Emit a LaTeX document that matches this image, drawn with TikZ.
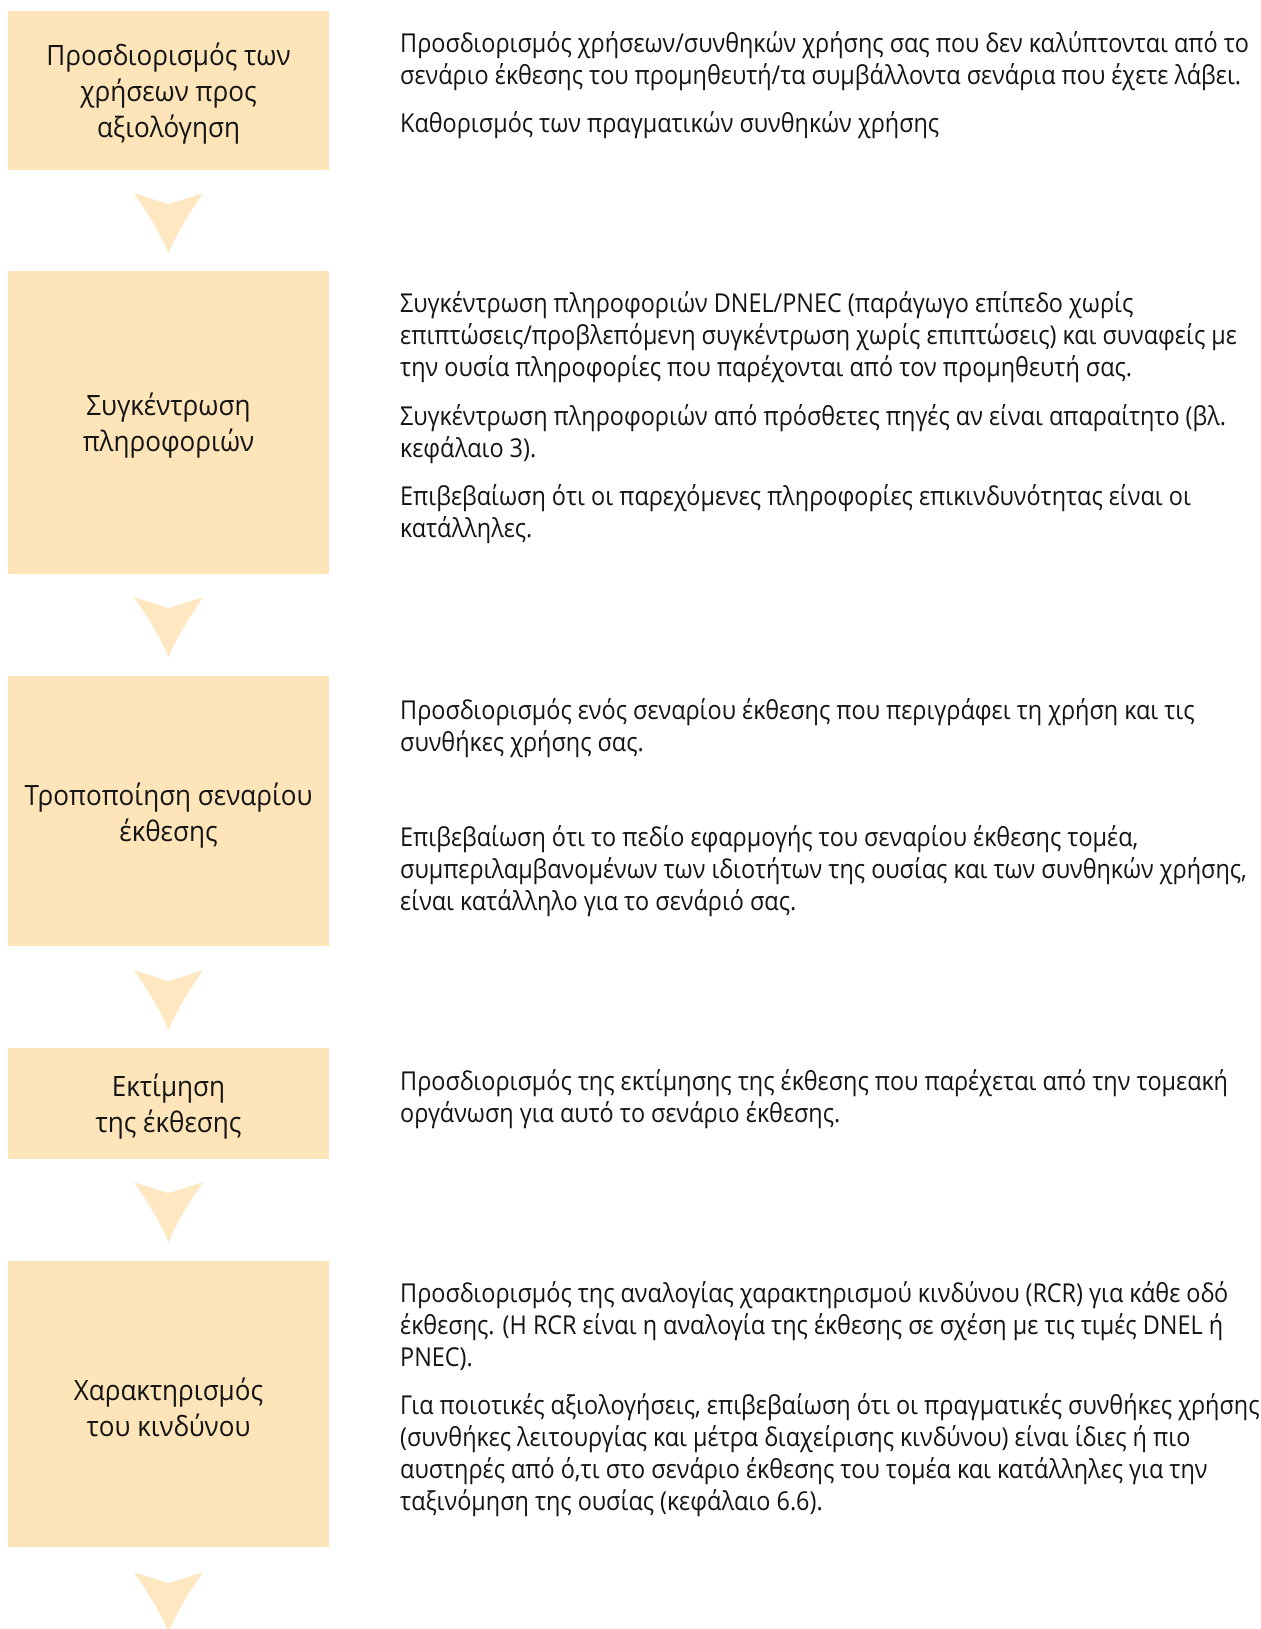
\documentclass[tikz,border=0pt]{standalone}
\usepackage{fontspec}
\setmainfont{Open Sans}
\newfontfamily\boxfont{Open Sans}[FakeStretch=0.93]
\newfontfamily\notefont{Open Sans}[FakeStretch=0.9]
\definecolor{stepfill}{RGB}{253,228,185}
\definecolor{chevfill}{RGB}{255,231,193}
\definecolor{inktext}{RGB}{20,20,20}
\begin{document}
\begin{tikzpicture}[x=1pt,y=-1pt,
  stagebox/.style={rectangle, fill=stepfill, draw=none, minimum width=321pt,
    inner sep=0pt},
  stagetext/.style={inner sep=0pt, align=center, text=inktext,
    font=\boxfont\fontsize{28}{36}\selectfont},
  note/.style={anchor=base west, inner sep=0pt, text=inktext,
    font=\notefont\fontsize{26}{32}\selectfont},
  chev/.pic={\fill[chevfill] (-34.5,0) -- (0,11) -- (34.5,0)
      .. controls (22,18) and (8,40) .. (0,60)
      .. controls (-8,40) and (-22,18) .. (-34.5,0) -- cycle;}]
\useasboundingbox[fill=white] (0,0) rectangle (1260,1629);

% stage boxes on the left
\node[stagebox, minimum height=159pt] (b1) at (168.5,90.5) {};
\node[stagebox, minimum height=303pt] (b2) at (168.5,422.5) {};
\node[stagebox, minimum height=270pt] (b3) at (168.5,811) {};
\node[stagebox, minimum height=111pt] (b4) at (168.5,1103.5) {};
\node[stagebox, minimum height=286pt] (b5) at (168.5,1404) {};

% stage titles
\node[stagetext] (t1) at ([yshift=-3.5pt]b1.center) {Προσδιορισμός των\\χρήσεων προς\\αξιολόγηση};
\node[stagetext] (t2) at ([yshift=-3.5pt]b2.center) {Συγκέντρωση\\πληροφοριών};
\node[stagetext] (t3) at ([yshift=-4.5pt]b3.center) {Τροποποίηση σεναρίου\\έκθεσης};
\node[stagetext] (t4) at ([yshift=-3.5pt]b4.center) {Εκτίμηση\\της έκθεσης};
\node[stagetext] (t5) at ([yshift=-3.5pt]b5.center) {Χαρακτηρισμός\\του κινδύνου};

% chevrons below each box
\path ([yshift=-23pt]b1.south) pic {chev};
\path ([yshift=-23pt]b2.south) pic {chev};
\path ([yshift=-24pt]b3.south) pic {chev};
\path ([yshift=-23pt]b4.south) pic {chev};
\path ([yshift=-25pt]b5.south) pic {chev};

% notes for stage 1
\node[note] (n11) at (400,53) {Προσδιορισμός χρήσεων/συνθηκών χρήσης σας που δεν καλύπτονται από το};
\node[note] (n12) at (400,85) {σενάριο έκθεσης του προμηθευτή/τα συμβάλλοντα σενάρια που έχετε λάβει.};
\node[note] (n13) at (400,133) {Καθορισμός των πραγματικών συνθηκών χρήσης};

% notes for stage 2
\node[note] (n21) at (400,312) {Συγκέντρωση πληροφοριών DNEL/PNEC (παράγωγο επίπεδο χωρίς};
\node[note] (n22) at (400,344) {επιπτώσεις/προβλεπόμενη συγκέντρωση χωρίς επιπτώσεις) και συναφείς με};
\node[note] (n23) at (400,376) {την ουσία πληροφορίες που παρέχονται από τον προμηθευτή σας.};
\node[note] (n24) at (400,425) {Συγκέντρωση πληροφοριών από πρόσθετες πηγές αν είναι απαραίτητο (βλ.};
\node[note] (n25) at (400,457) {κεφάλαιο 3).};
\node[note] (n26) at (400,505) {Επιβεβαίωση ότι οι παρεχόμενες πληροφορίες επικινδυνότητας είναι οι};
\node[note] (n27) at (400,537) {κατάλληλες.};

% notes for stage 3
\node[note] (n31) at (400,719) {Προσδιορισμός ενός σεναρίου έκθεσης που περιγράφει τη χρήση και τις};
\node[note] (n32) at (400,751) {συνθήκες χρήσης σας.};
\node[note] (n33) at (400,846) {Επιβεβαίωση ότι το πεδίο εφαρμογής του σεναρίου έκθεσης τομέα,};
\node[note] (n34) at (400,878) {συμπεριλαμβανομένων των ιδιοτήτων της ουσίας και των συνθηκών χρήσης,};
\node[note] (n35) at (400,910) {είναι κατάλληλο για το σενάριό σας.};

% notes for stage 4
\node[note] (n41) at (400,1090) {Προσδιορισμός της εκτίμησης της έκθεσης που παρέχεται από την τομεακή};
\node[note] (n42) at (400,1122) {οργάνωση για αυτό το σενάριο έκθεσης.};

% notes for stage 5
\node[note] (n51) at (400,1302) {Προσδιορισμός της αναλογίας χαρακτηρισμού κινδύνου (RCR) για κάθε οδό};
\node[note] (n52) at (400,1334) {έκθεσης. (Η RCR είναι η αναλογία της έκθεσης σε σχέση με τις τιμές DNEL ή};
\node[note] (n53) at (400,1366) {PNEC).};
\node[note] (n54) at (400,1414) {Για ποιοτικές αξιολογήσεις, επιβεβαίωση ότι οι πραγματικές συνθήκες χρήσης};
\node[note] (n55) at (400,1446) {(συνθήκες λειτουργίας και μέτρα διαχείρισης κινδύνου) είναι ίδιες ή πιο};
\node[note] (n56) at (400,1478) {αυστηρές από ό,τι στο σενάριο έκθεσης του τομέα και κατάλληλες για την};
\node[note] (n57) at (400,1510) {ταξινόμηση της ουσίας (κεφάλαιο 6.6).};
\end{tikzpicture}
\end{document}
